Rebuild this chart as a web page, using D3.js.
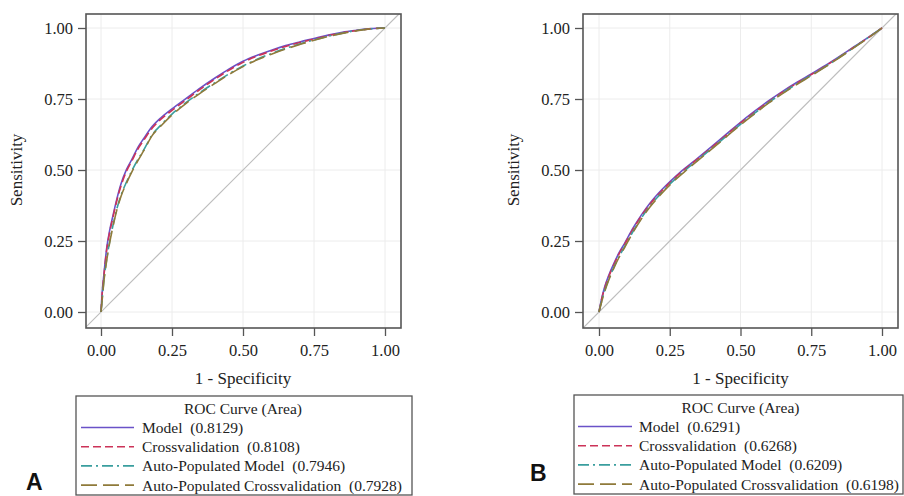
<!DOCTYPE html>
<html><head><meta charset="utf-8">
<script src="https://cdn.jsdelivr.net/npm/d3@7"></script>
<style>html,body{margin:0;padding:0;background:#fff;} svg{display:block;}</style>
</head><body>
<svg id="chart" width="904" height="496"></svg>
<script>
// ---------- DATA ----------
const ticks = [0, 0.25, 0.5, 0.75, 1];
const seriesNames = ["Model", "Crossvalidation", "Auto-Populated Model", "Auto-Populated Crossvalidation"];
const areasA = ["0.8129", "0.8108", "0.7946", "0.7928"];
const areasB = ["0.6291", "0.6268", "0.6209", "0.6198"];

const fprA = [0,0.005,0.01,0.02,0.03,0.04,0.055,0.07,0.09,0.11,0.13,0.15,0.18,0.21,0.25,0.3,0.35,0.4,0.45,0.5,0.55,0.6,0.65,0.7,0.75,0.8,0.85,0.9,0.95,1];
const modelA     = [0,0.08,0.13,0.225,0.285,0.33,0.395,0.45,0.502,0.54,0.58,0.61,0.653,0.683,0.715,0.752,0.789,0.823,0.855,0.883,0.904,0.922,0.938,0.951,0.963,0.975,0.985,0.992,0.998,1];
const crossA     = [0,0.075,0.125,0.218,0.278,0.324,0.389,0.443,0.496,0.535,0.574,0.604,0.647,0.678,0.71,0.747,0.785,0.819,0.851,0.879,0.901,0.919,0.935,0.949,0.961,0.973,0.983,0.991,0.997,1];
const autoA      = [0,0.055,0.11,0.185,0.245,0.295,0.36,0.41,0.458,0.5,0.537,0.57,0.624,0.657,0.697,0.738,0.774,0.807,0.838,0.866,0.89,0.91,0.928,0.944,0.958,0.971,0.982,0.991,0.997,1];
const autoCrossA = [0,0.052,0.106,0.181,0.241,0.291,0.356,0.406,0.454,0.496,0.533,0.567,0.621,0.654,0.694,0.735,0.771,0.804,0.836,0.864,0.888,0.908,0.926,0.942,0.957,0.97,0.981,0.99,0.997,1];

const fprB = [0,0.01,0.02,0.035,0.05,0.07,0.09,0.12,0.15,0.18,0.21,0.24,0.27,0.3,0.35,0.4,0.45,0.5,0.55,0.6,0.65,0.7,0.75,0.8,0.85,0.9,0.95,1];
const modelB     = [0,0.05,0.088,0.13,0.165,0.207,0.241,0.295,0.342,0.383,0.418,0.449,0.477,0.503,0.543,0.584,0.626,0.668,0.707,0.744,0.778,0.809,0.838,0.868,0.9,0.933,0.966,1];
const crossB     = [0,0.047,0.084,0.126,0.161,0.203,0.237,0.291,0.338,0.379,0.414,0.445,0.474,0.5,0.54,0.581,0.623,0.665,0.704,0.741,0.775,0.806,0.836,0.866,0.898,0.932,0.965,1];
const autoB      = [0,0.04,0.075,0.117,0.152,0.194,0.229,0.283,0.331,0.373,0.408,0.44,0.469,0.495,0.536,0.577,0.619,0.661,0.7,0.738,0.772,0.804,0.834,0.864,0.897,0.931,0.965,1];
const autoCrossB = [0,0.038,0.072,0.114,0.149,0.191,0.226,0.28,0.328,0.37,0.405,0.437,0.466,0.492,0.534,0.575,0.617,0.659,0.698,0.736,0.77,0.802,0.832,0.863,0.896,0.93,0.964,1];

// ---------- STYLES ----------
const colors = ["#6a52c8", "#cc3358", "#3a9e9e", "#8f7a3a"];
const dashes = [null, "8,4", "11,4,2,4", "16,6"];
const serif = "Liberation Serif, Times New Roman, serif";

const svg = d3.select("#chart");

function panel(opt) {
  const x = d3.scaleLinear().domain([0, 1]).range([opt.x0, opt.x1]);
  const y = d3.scaleLinear().domain([0, 1]).range([312, 28]);
  const fx0 = opt.fx0, fx1 = opt.fx1, fy0 = 14, fy1 = 328;
  const g = svg.append("g");
  const clipId = "clip" + opt.label;
  g.append("clipPath").attr("id", clipId).append("rect")
    .attr("x", fx0).attr("y", fy0).attr("width", fx1 - fx0).attr("height", fy1 - fy0);

  // grid
  g.append("g").selectAll("line").data(ticks).join("line")
    .attr("x1", d => x(d)).attr("x2", d => x(d)).attr("y1", fy0).attr("y2", fy1)
    .attr("stroke", "#ececec").attr("stroke-width", 1);
  g.append("g").selectAll("line").data(ticks).join("line")
    .attr("y1", d => y(d)).attr("y2", d => y(d)).attr("x1", fx0).attr("x2", fx1)
    .attr("stroke", "#ececec").attr("stroke-width", 1);

  // diagonal
  g.append("line").attr("clip-path", `url(#${clipId})`)
    .attr("x1", x(-0.1)).attr("y1", y(-0.1)).attr("x2", x(1.1)).attr("y2", y(1.1))
    .attr("stroke", "#bdbdbd").attr("stroke-width", 1.2);

  // curves
  const line = d3.line().x(d => x(d[0])).y(d => y(d[1])).curve(d3.curveMonotoneX);
  opt.series.forEach((s, i) => {
    const pts = opt.fpr.map((f, k) => [f, s[k]]);
    g.append("path").datum(pts).attr("d", line)
      .attr("fill", "none").attr("stroke", colors[i]).attr("stroke-width", 1.6)
      .attr("stroke-dasharray", dashes[i]);
  });

  // axes
  const xa = g.append("g").attr("transform", `translate(0,${fy1})`)
    .call(d3.axisBottom(x).tickValues(ticks).tickFormat(d3.format(".2f")).tickSize(8).tickPadding(8));
  const ya = g.append("g").attr("transform", `translate(${fx0},0)`)
    .call(d3.axisLeft(y).tickValues(ticks).tickFormat(d3.format(".2f")).tickSize(8).tickPadding(5));
  [xa, ya].forEach(a => {
    a.attr("font-family", serif).attr("font-size", 16.5);
    a.select(".domain").remove();
    a.selectAll("line").attr("stroke", "#555").attr("stroke-width", 1.3);
    a.selectAll("text").attr("fill", "#222");
  });

  // frame
  g.append("rect").attr("x", fx0).attr("y", fy0).attr("width", fx1 - fx0).attr("height", fy1 - fy0)
    .attr("fill", "none").attr("stroke", "#555").attr("stroke-width", 1.6);

  // axis titles
  g.append("text").attr("x", x(0.5)).attr("y", 384).attr("text-anchor", "middle")
    .attr("font-family", serif).attr("font-size", 17).attr("fill", "#222").text("1 - Specificity");
  g.append("text").attr("transform", `translate(${fx0 - 64},${y(0.5)}) rotate(-90)`)
    .attr("text-anchor", "middle").attr("font-family", serif).attr("font-size", 17).attr("fill", "#222")
    .text("Sensitivity");

  // legend
  const L = opt.legend;
  g.append("rect").attr("x", L.x).attr("y", L.y).attr("width", L.w).attr("height", 99)
    .attr("fill", "#fff").attr("stroke", "#555").attr("stroke-width", 1.3);
  g.append("text").attr("x", x(0.5)).attr("y", L.y + 18).attr("text-anchor", "middle")
    .attr("font-family", serif).attr("font-size", 15.5).attr("fill", "#222").text("ROC Curve (Area)");
  seriesNames.forEach((n, i) => {
    const by = L.y + 37 + i * 19.2;
    g.append("line").attr("x1", L.lx0).attr("x2", L.lx1).attr("y1", by - 5.5).attr("y2", by - 5.5)
      .attr("stroke", colors[i]).attr("stroke-width", 1.6).attr("stroke-dasharray", dashes[i]);
    g.append("text").attr("x", L.tx).attr("y", by).attr("font-family", serif).attr("font-size", 15.5)
      .attr("fill", "#222").style("white-space", "pre").text(`${n}  (${opt.areas[i]})`);
  });

  // panel label
  g.append("text").attr("x", opt.lab.x).attr("y", opt.lab.y)
    .attr("font-family", "Liberation Sans, Arial, sans-serif").attr("font-weight", "bold")
    .attr("font-size", 23).attr("fill", "#111").text(opt.label);
}

panel({label: "A", x0: 101, x1: 385, fx0: 86, fx1: 401, fpr: fprA,
  series: [modelA, crossA, autoA, autoCrossA], areas: areasA,
  legend: {x: 76, y: 396, w: 336, lx0: 81, lx1: 134, tx: 142},
  lab: {x: 26, y: 490}});
panel({label: "B", x0: 599, x1: 882, fx0: 583, fx1: 898, fpr: fprB,
  series: [modelB, crossB, autoB, autoCrossB], areas: areasB,
  legend: {x: 574, y: 395, w: 329, lx0: 578, lx1: 632, tx: 639},
  lab: {x: 530, y: 481}});
</script>
</body></html>
